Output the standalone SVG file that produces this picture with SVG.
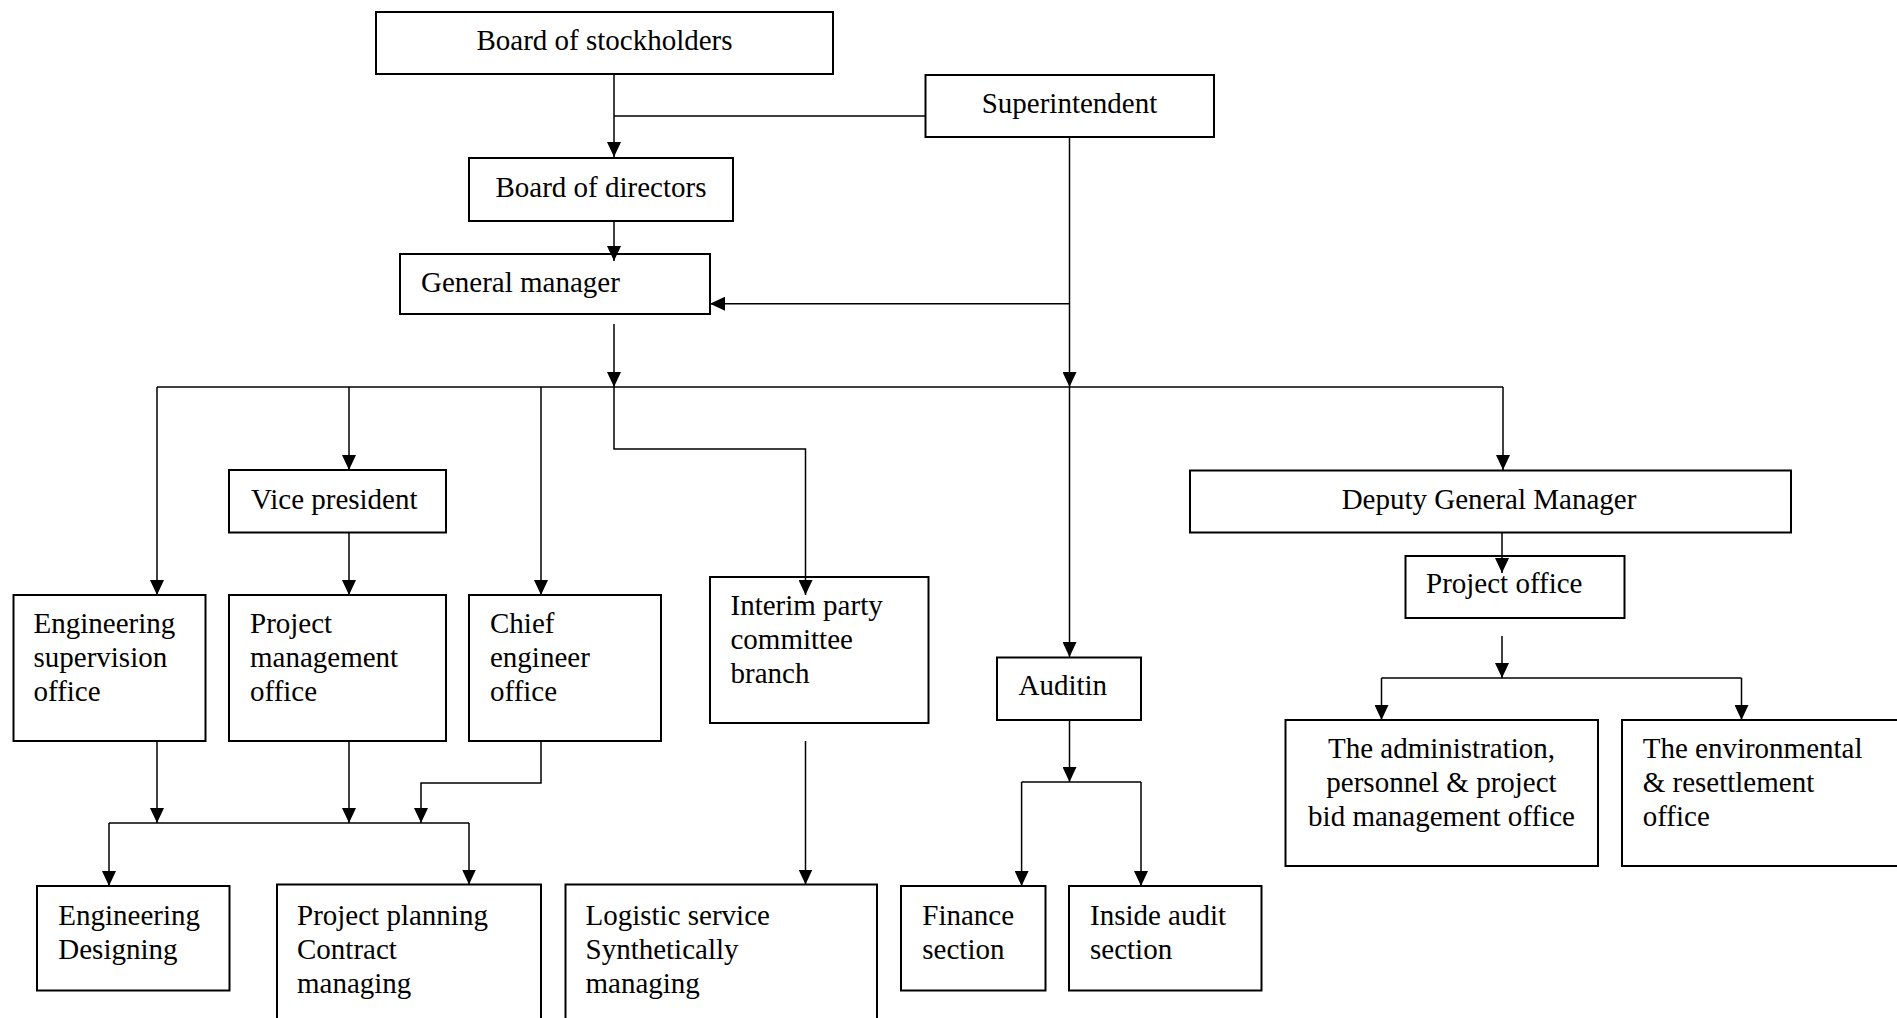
<svg xmlns="http://www.w3.org/2000/svg" width="1897" height="1018" viewBox="0 0 1897 1018">
<style>
.box{fill:#fff;stroke:#000;stroke-width:2}
.t{font-family:"Liberation Serif","Times New Roman",serif;font-size:29px;fill:#000}
.c{text-anchor:middle}
.ln{fill:none;stroke:#000;stroke-width:1.5}
</style>
<defs>
<marker id="ah" markerUnits="userSpaceOnUse" markerWidth="16" markerHeight="14" refX="15" refY="7" orient="auto" viewBox="0 0 16 14">
<path d="M0,0 L15,7 L0,14 z" fill="#000"/>
</marker>
</defs>
<rect width="1897" height="1018" fill="#fff"/>

<g id="nodes">
<g id="stockholders"><rect class="box" x="376" y="12" width="457" height="62"/><text class="t c" x="604.5" y="50">Board of stockholders</text></g>
<g id="superintendent"><rect class="box" x="925.5" y="75" width="288.5" height="62"/><text class="t c" x="1069.5" y="113">Superintendent</text></g>
<g id="directors"><rect class="box" x="469" y="158" width="264" height="63"/><text class="t c" x="601" y="197">Board of directors</text></g>
<g id="gm"><rect class="box" x="400" y="254" width="310" height="60"/><text class="t" x="421" y="292">General manager</text></g>
<g id="vp"><rect class="box" x="229" y="470" width="217" height="62.5"/><text class="t" x="251" y="509">Vice president</text></g>
<g id="dgm"><rect class="box" x="1190" y="470.5" width="601" height="62"/><text class="t c" x="1489" y="509">Deputy General Manager</text></g>
<g id="engsup"><rect class="box" x="13.5" y="595" width="192" height="146"/><text class="t" x="33.5" y="632.7">Engineering<tspan x="33.5" dy="34">supervision</tspan><tspan x="33.5" dy="34">office</tspan></text></g>
<g id="pm"><rect class="box" x="229" y="595" width="217" height="146"/><text class="t" x="250" y="632.7">Project<tspan x="250" dy="34">management</tspan><tspan x="250" dy="34">office</tspan></text></g>
<g id="chief"><rect class="box" x="469" y="595" width="192" height="146"/><text class="t" x="490" y="632.7">Chief<tspan x="490" dy="34">engineer</tspan><tspan x="490" dy="34">office</tspan></text></g>
<g id="interim"><rect class="box" x="710" y="577" width="218.5" height="146"/><text class="t" x="730.5" y="615">Interim party<tspan x="730.5" dy="34">committee</tspan><tspan x="730.5" dy="34">branch</tspan></text></g>
<g id="projoffice"><rect class="box" x="1405.5" y="556" width="219" height="62"/><text class="t" x="1426" y="593.3">Project office</text></g>
<g id="auditin"><rect class="box" x="997" y="657.5" width="144" height="62.5"/><text class="t" x="1018.5" y="695">Auditin</text></g>
<g id="admin"><rect class="box" x="1285.5" y="720" width="312.5" height="146"/><text class="t c" x="1441.5" y="758">The administration,<tspan x="1441.5" dy="34">personnel &amp; project</tspan><tspan x="1441.5" dy="34">bid management office</tspan></text></g>
<g id="env"><rect class="box" x="1622" y="720" width="300" height="146"/><text class="t" x="1642.7" y="758">The environmental<tspan x="1642.7" dy="34">&amp; resettlement</tspan><tspan x="1642.7" dy="34">office</tspan></text></g>
<g id="engdes"><rect class="box" x="37" y="886" width="192.5" height="104.5"/><text class="t" x="58.3" y="924.5">Engineering<tspan x="58.3" dy="34">Designing</tspan></text></g>
<g id="planning"><rect class="box" x="277" y="884.5" width="264" height="160"/><text class="t" x="297" y="924.5">Project planning<tspan x="297" dy="34">Contract</tspan><tspan x="297" dy="34">managing</tspan></text></g>
<g id="logistic"><rect class="box" x="565.5" y="884.5" width="311.5" height="160"/><text class="t" x="585.5" y="924.5">Logistic service<tspan x="585.5" dy="34">Synthetically</tspan><tspan x="585.5" dy="34">managing</tspan></text></g>
<g id="finance"><rect class="box" x="901" y="886" width="144.5" height="104.5"/><text class="t" x="922.3" y="925">Finance<tspan x="922.3" dy="34">section</tspan></text></g>
<g id="insideaudit"><rect class="box" x="1069" y="886" width="192.5" height="104.5"/><text class="t" x="1090" y="925">Inside audit<tspan x="1090" dy="34">section</tspan></text></g>
</g>

<g id="connectors">
<path class="ln" d="M614,74 V157" marker-end="url(#ah)"/>
<path class="ln" d="M614,116 H925.5"/>
<path class="ln" d="M614,221 V261" marker-end="url(#ah)"/>
<path class="ln" d="M1069.5,137 V387" marker-end="url(#ah)"/>
<path class="ln" d="M1069.5,303.7 H710" marker-end="url(#ah)"/>
<path class="ln" d="M614,324 V387" marker-end="url(#ah)"/>
<path class="ln" d="M157,387 H1503"/>
<path class="ln" d="M157,387 V595" marker-end="url(#ah)"/>
<path class="ln" d="M349,387 V470" marker-end="url(#ah)"/>
<path class="ln" d="M541,387 V595" marker-end="url(#ah)"/>
<path class="ln" d="M614,387 V449 H805.5 V595" marker-end="url(#ah)"/>
<path class="ln" d="M1069.5,387 V657" marker-end="url(#ah)"/>
<path class="ln" d="M1503,387 V470" marker-end="url(#ah)"/>
<path class="ln" d="M349,532.5 V595" marker-end="url(#ah)"/>
<path class="ln" d="M157,741 V823" marker-end="url(#ah)"/>
<path class="ln" d="M349,741 V823" marker-end="url(#ah)"/>
<path class="ln" d="M541,741 V783 H421 V823" marker-end="url(#ah)"/>
<path class="ln" d="M109,823 H469"/>
<path class="ln" d="M109,823 V886" marker-end="url(#ah)"/>
<path class="ln" d="M469,823 V884.5" marker-end="url(#ah)"/>
<path class="ln" d="M805.5,741 V884.5" marker-end="url(#ah)"/>
<path class="ln" d="M1069.5,720 V782" marker-end="url(#ah)"/>
<path class="ln" d="M1021.6,782 H1141"/>
<path class="ln" d="M1021.6,782 V886" marker-end="url(#ah)"/>
<path class="ln" d="M1141,782 V886" marker-end="url(#ah)"/>
<path class="ln" d="M1502,532.5 V573" marker-end="url(#ah)"/>
<path class="ln" d="M1502,636 V678" marker-end="url(#ah)"/>
<path class="ln" d="M1381.5,678 H1741.5"/>
<path class="ln" d="M1381.5,678 V720" marker-end="url(#ah)"/>
<path class="ln" d="M1741.5,678 V720" marker-end="url(#ah)"/>
</g>
</svg>
